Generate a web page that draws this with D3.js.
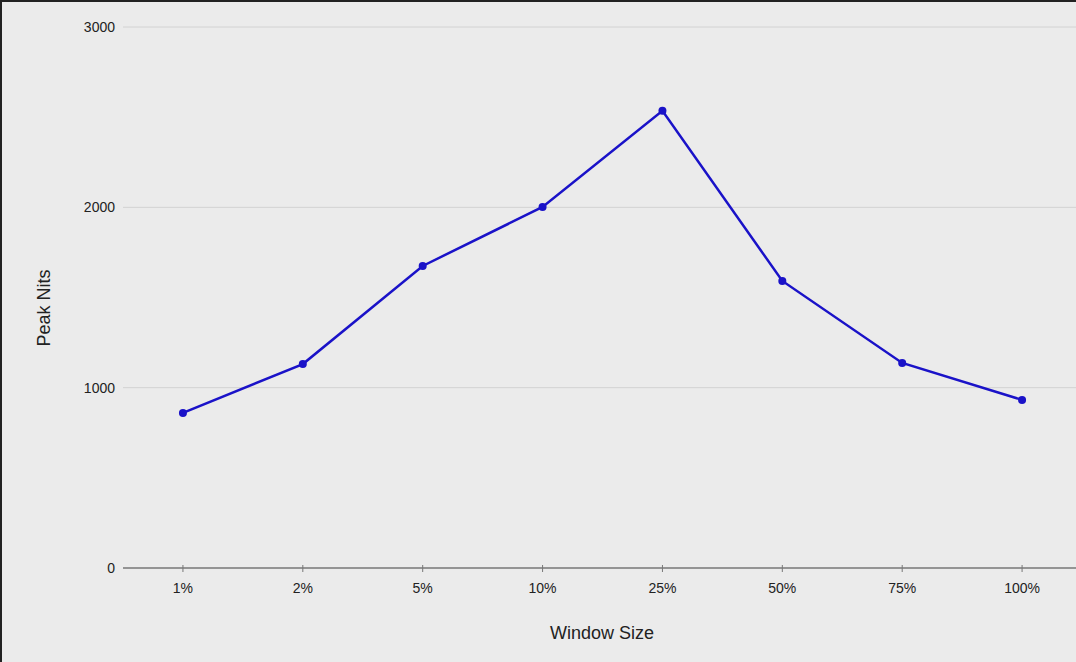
<!DOCTYPE html>
<html><head><meta charset="utf-8">
<script src="https://cdn.jsdelivr.net/npm/d3@7"></script>
<style>body{margin:0;background:#ebebeb}svg{display:block}</style>
</head><body><svg id="c" width="1076" height="662"></svg>
<script>
const categories = ["1%","2%","5%","10%","25%","50%","75%","100%"];
const peakNits = [860,1131,1675,2002,2535,1592,1137,932];
const yTicks = [0,1000,2000,3000];

const svg = d3.select("#c");
const W = 1076, H = 662;
svg.append("rect").attr("width",W).attr("height",H).attr("fill","#ebebeb");
svg.append("path").attr("d",`M1,${H} V1 H${W}`).attr("fill","none").attr("stroke","#222").attr("stroke-width",2);

const x = d3.scaleBand().domain(categories).range([123,1082]);
const y = d3.scaleLinear().domain([0,3000]).range([568,27]);
const font = "Helvetica, Arial, 'Liberation Sans', sans-serif";

// grid
svg.append("g").selectAll("line").data(yTicks.filter(d=>d>0)).join("line")
  .attr("x1",123).attr("x2",W).attr("y1",d=>y(d)).attr("y2",d=>y(d))
  .attr("stroke","#d2d2d2").attr("stroke-width",1);
// y labels
svg.append("g").selectAll("text").data(yTicks).join("text")
  .attr("x",115).attr("y",d=>y(d)).attr("dy","0.35em").attr("text-anchor","end")
  .attr("font-family",font).attr("font-size",14).attr("fill","#222").text(d=>d);
// x axis
svg.append("line").attr("x1",123).attr("x2",W).attr("y1",y(0)).attr("y2",y(0)).attr("stroke","#777").attr("stroke-width",1.3);
const xc = d=>x(d)+x.bandwidth()/2;
svg.append("g").selectAll("line").data(categories).join("line")
  .attr("x1",xc).attr("x2",xc).attr("y1",y(0)-3).attr("y2",y(0)+4).attr("stroke","#777");
svg.append("g").selectAll("text").data(categories).join("text")
  .attr("x",xc).attr("y",y(0)+25).attr("text-anchor","middle")
  .attr("font-family",font).attr("font-size",14).attr("fill","#222").text(d=>d);
// titles
svg.append("text").attr("x",602).attr("y",639).attr("text-anchor","middle")
  .attr("font-family",font).attr("font-size",18).attr("fill","#222").text("Window Size");
svg.append("text").attr("transform","translate(50,308) rotate(-90)").attr("text-anchor","middle")
  .attr("font-family",font).attr("font-size",18).attr("fill","#222").text("Peak Nits");
// line
const line = d3.line().x((d,i)=>xc(categories[i])).y(d=>y(d));
svg.append("path").datum(peakNits).attr("d",line).attr("fill","none").attr("stroke","#1a12c8").attr("stroke-width",2.5);
svg.append("g").selectAll("circle").data(peakNits).join("circle")
  .attr("cx",(d,i)=>xc(categories[i])).attr("cy",d=>y(d)).attr("r",4).attr("fill","#1a12c8");
</script></body></html>
